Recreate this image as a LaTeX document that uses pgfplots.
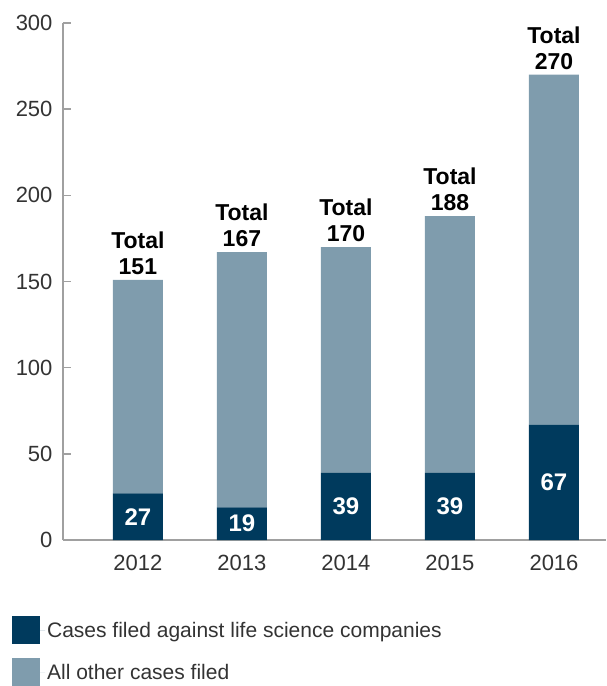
\documentclass[border=0pt]{standalone}
\usepackage{pgfplots}
\pgfplotsset{compat=1.18}
\usepackage{pgfplotstable}
\usepackage{fontspec}
\setmainfont{Liberation Sans}
\definecolor{darkc}{HTML}{003A5D}
\definecolor{lightc}{HTML}{7F9CAD}
\definecolor{axc}{HTML}{A0A0A0}
\definecolor{txtc}{HTML}{333333}
\pgfplotstableread{
x life other total
0 27 124 151
1 19 148 167
2 39 131 170
3 39 149 188
4 67 203 270
}\datatab
\begin{document}
\begin{tikzpicture}
\begin{axis}[
  name=ax,
  scale only axis,
  width=543pt, height=517pt,
  xmin=-0.72, xmax=4.5,
  ymin=0, ymax=300,
  ybar stacked,
  bar width=50pt,
  axis lines*=left,
  axis line style={axc, line width=1.8pt},
  every outer x axis line/.append style={-},
  every outer y axis line/.append style={-},
  xtick={0,1,2,3,4},
  xticklabels={2012,2013,2014,2015,2016},
  xtick style={draw=none},
  ytick={0,50,...,300},
  ytick style={axc, line width=1.5pt},
  tick align=inside,
  major tick length=8pt,
  ticklabel style={font=\fontsize{22}{24}\selectfont, text=txtc},
  /pgf/number format/assume math mode=true,
  yticklabel style={xshift=-7pt},
  xticklabel style={yshift=-12pt},
  legend style={at={(-0.094,-0.147)}, anchor=north west, draw=none, fill=none,
    font=\fontsize{21}{24}\selectfont, text=txtc, row sep=14pt, inner sep=0pt},
  legend cell align=left,
]
\addplot[fill=darkc, draw=none,
  legend image code/.code={\fill[darkc] (0pt,-14pt) rectangle (28pt,14pt); \path (0pt,0pt) -- (33pt,0pt);},
  nodes near coords,
  point meta=explicit,
  every node near coord/.append style={anchor=center,
    text=white, font=\fontsize{24}{25}\selectfont\bfseries},
] table[x=x, y=life, meta=life] {\datatab};
\addlegendentry{Cases filed against life science companies}
\addplot[fill=lightc, draw=none,
  legend image code/.code={\fill[lightc] (0pt,-14pt) rectangle (28pt,14pt); \path (0pt,0pt) -- (33pt,0pt);},
  nodes near coords={Total\\\pgfmathprintnumber{\pgfplotspointmeta}},
  point meta=explicit,
  visualization depends on={rawy \as \lv},
  every node near coord/.append style={anchor=south, align=center, yshift=\lv*0.86167pt+3pt,
    inner sep=2pt, text=black, font=\fontsize{23}{26}\selectfont\bfseries},
] table[x=x, y=other, meta=total] {\datatab};
\addlegendentry{All other cases filed}
\end{axis}
\pgfresetboundingbox
\path (ax.south west) ++(-63pt,-146pt) rectangle ++(606pt,686pt);
\end{tikzpicture}
\end{document}
